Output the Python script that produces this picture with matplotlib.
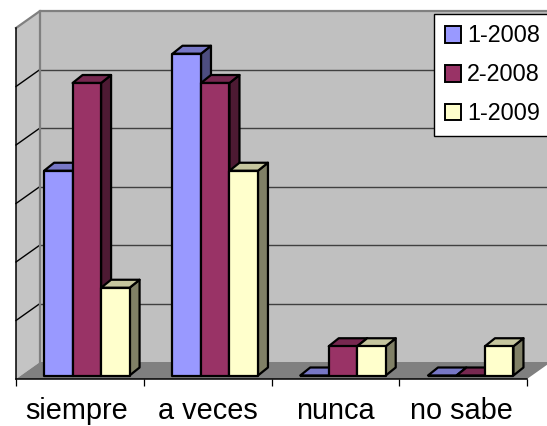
import matplotlib
matplotlib.use("Agg")
import matplotlib.pyplot as plt
from matplotlib.patches import Polygon, Patch

plt.rcParams['font.family'] = ['Liberation Sans', 'DejaVu Sans']

categories = ['siempre', 'a veces', 'nunca', 'no sabe']
series_names = ['1-2008', '2-2008', '1-2009']
v_2008_1 = [3.5, 5.5, 0, 0]
v_2008_2 = [5, 5, 0.5, 0]
v_2009_1 = [1.5, 3.5, 0.5, 0.5]

front = ['#9999FF', '#993366', '#FFFFCC']
top = ['#7777C6', '#772850', '#C6C69E']
side = ['#4D4D80', '#4D1A33', '#808066']

W, H = 547, 426
fig = plt.figure(figsize=(W / 100, H / 100), dpi=100)
# axes frame is the front edge of the 3d box, in pixels 16..527 / 379..28
ax = fig.add_axes([16 / W, 1 - 379 / H, 511 / W, 351 / H])
ax.set_xlim(0, 4)
ax.set_ylim(0, 6)

# depth of the box and of one bar, in data units
DX, DY = 24 / 127.75, 17 / 58.5
BX, BY = 10 / 127.75, 8 / 58.5
BASE = 3.5 / 58.5
BAR_W = 0.223
START = 0.22

# walls and floor
wall = dict(clip_on=False, linewidth=0)
ax.add_patch(Polygon([(DX, DY), (4.3, DY), (4.3, 6 + DY), (DX, 6 + DY)], fc='#C0C0C0', zorder=1, **wall))
ax.add_patch(Polygon([(0, 0), (DX, DY), (DX, 6 + DY), (0, 6)], fc='#C4C4C4', zorder=1, **wall))
ax.add_patch(Polygon([(0, 0), (4, 0), (4 + DX, DY), (DX, DY)], fc='#808080', zorder=1, **wall))

for v in range(1, 6):
    ax.plot([DX, 4.3], [v + DY, v + DY], color='#404040', lw=1, zorder=2, clip_on=False)
for v in range(1, 6):
    ax.plot([0, DX], [v, v + DY], color='black', lw=1, zorder=2, clip_on=False)
ax.plot([0, DX, 4.3], [6, 6 + DY, 6 + DY], color='#808080', lw=1.6, zorder=2, clip_on=False)
ax.plot([DX, DX], [DY, 6 + DY], color='#808080', lw=1.6, zorder=2, clip_on=False)

# bars, left to right so later ones cover the side of earlier ones
z = 3
all_values = [v_2008_1, v_2008_2, v_2009_1]
for c in range(len(categories)):
    for s, values in enumerate(all_values):
        x0 = c + START + s * BAR_W + (0.005 if c else 0)
        x1 = x0 + BAR_W
        y0 = BASE
        y1 = BASE + values[c]
        style = dict(ec='black', lw=1.6, joinstyle='round', clip_on=False, zorder=z)
        ax.add_patch(Polygon([(x1, y0), (x1 + BX, y0 + BY), (x1 + BX, y1 + BY), (x1, y1)], fc=side[s], **style))
        ax.add_patch(Polygon([(x0, y1), (x1, y1), (x1 + BX, y1 + BY), (x0 + BX, y1 + BY)], fc=top[s], **style))
        ax.add_patch(Polygon([(x0, y0), (x1, y0), (x1, y1), (x0, y1)], fc=front[s], **style))
        z += 1

for name in ['top', 'right']:
    ax.spines[name].set_visible(False)
for name in ['left', 'bottom']:
    ax.spines[name].set_linewidth(1.1)
    ax.spines[name].set_zorder(2.5)

ax.set_yticks(range(7))
ax.tick_params(axis='y', length=0, labelleft=False)
ax.set_xticks(range(5))
ax.tick_params(axis='x', which='major', length=5, width=0.9, labelbottom=False)
ax.set_xticks([0.474, 1.503, 2.5, 3.49], minor=True)
ax.set_xticklabels(categories, minor=True, fontsize=20.8)
ax.tick_params(axis='x', which='minor', length=0, pad=13)

handles = [Patch(fc=front[i], ec='black', lw=1.4, label=series_names[i]) for i in range(3)]
leg = ax.legend(handles=handles, loc='upper left', bbox_to_anchor=(434 / W, 1 - 14 / H),
                bbox_transform=fig.transFigure, fontsize=16.8, fancybox=False, framealpha=1,
                edgecolor='black', borderaxespad=0, borderpad=0.45, handlelength=0.72,
                handleheight=0.72, handletextpad=0.24, labelspacing=0.68)
leg.get_frame().set_linewidth(1.0)
leg.set_zorder(50)

fig.savefig('out.png', dpi=100)
